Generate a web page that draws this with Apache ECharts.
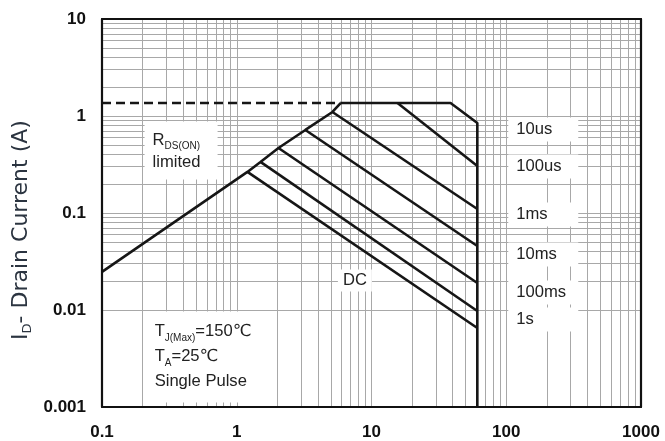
<!DOCTYPE html>
<html><head><meta charset="utf-8">
<script src="https://cdn.jsdelivr.net/npm/echarts@6/dist/echarts.min.js"></script>
<style>html,body{margin:0;padding:0;background:#fff}#c{width:665px;height:441px}</style>
</head><body><div id="c"></div>
<script>
// ---- tick labels ----
const xTickLabels = ['0.1', '1', '10', '100', '1000'];
const yTickLabels = ['0.001', '0.01', '0.1', '1', '10'];
const gridMultipliers = [1, 2, 3, 4, 5, 6, 7, 8, 9];
const xDecades = [0.1, 1, 10, 100];
const yDecades = [0.001, 0.01, 0.1, 1];

// ---- curves (VDS [V], ID [A]) ----
const rdsLimit = [[0.1, 0.0247], [1.20, 0.265], [1.50, 0.336], [2.04, 0.468], [3.23, 0.718], [5.13, 1.10], [5.9, 1.36]];
const dashedLimit = [[0.1, 1.36], [5.9, 1.36]];
const line10us = [[5.9, 1.36], [38.6, 1.36], [61, 0.848], [61, 0.001]];
const line100us = [[15.6, 1.36], [61, 0.305]];
const line1ms = [[5.13, 1.10], [61, 0.110]];
const line10ms = [[3.23, 0.718], [61, 0.0457]];
const line100ms = [[2.04, 0.468], [61, 0.0190]];
const line1s = [[1.50, 0.336], [61, 0.00977]];
const lineDC = [[1.20, 0.265], [61, 0.00652]];
const pulseLabels = ['10us', '100us', '1ms', '10ms', '100ms', '1s'];

const FONT = "'Liberation Sans', Arial, 'DejaVu Sans', 'Noto Sans CJK SC', sans-serif";
const LINE = { color: '#161616', width: 2.6 };

// grid lines (log paper)
const gridLines = [];
xDecades.forEach(d => gridMultipliers.forEach(m => { const v = m * d; if (!(d === 0.1 && m === 1)) gridLines.push({ xAxis: v }); }));
yDecades.forEach(d => gridMultipliers.forEach(m => { const v = m * d; if (!(d === 0.001 && m === 1)) gridLines.push({ yAxis: v }); }));

function expIndex(v) { return Math.round(Math.log10(v)); }

const FS = 16.6;
const richMain = {
  m: { fontSize: FS, lineHeight: 22, fontFamily: FONT, color: '#222' },
  s: { fontSize: 10, lineHeight: 13, fontFamily: FONT, color: '#222', verticalAlign: 'bottom' }
};
const richTj = {
  m: { fontSize: FS, lineHeight: 25, fontFamily: FONT, color: '#222' },
  s: { fontSize: 10, lineHeight: 14, fontFamily: FONT, color: '#222', verticalAlign: 'bottom' }
};
const boxLabel = (extra) => Object.assign({
  show: true, position: [0, 0], align: 'left', verticalAlign: 'top',
  backgroundColor: '#fff', fontFamily: FONT, fontSize: FS, color: '#222'
}, extra);

const pulseAnchors = [[104.4, 0.954], [104.4, 0.396], [104.4, 0.127], [104.4, 0.0491], [104.4, 0.0199], [104.4, 0.0105]];

const annotations = [
  { coord: [0.2088, 0.867], label: boxLabel({ formatter: '{m|R}{s|DS(ON)}\n{m|limited}', rich: richMain, padding: [8, 8, 6, 8], width: 57 }) },
  { coord: [0.209, 0.00954], label: boxLabel({ formatter: '{m|T}{s|J(Max)}{m|=150\u2103}\n{m|T}{s|A}{m|=25\u2103}\n{m|Single Pulse}', rich: richTj, padding: [7, 8, 9, 10], width: 107 }) },
  { coord: [5.68, 0.0259], label: boxLabel({ formatter: 'DC', lineHeight: 16, padding: [3, 5, 3, 5] }) }
].concat(pulseLabels.map((t, i) => ({
  coord: pulseAnchors[i],
  label: boxLabel({ formatter: t, lineHeight: 16, padding: [4, 6, 4, 8], width: 56 })
})));

function lineSeries(name, data, extra) {
  return Object.assign({
    name, type: 'line', data, symbol: 'none', showSymbol: false, silent: true,
    lineStyle: Object.assign({}, LINE), z: 3, animation: false
  }, extra || {});
}

const axisBase = {
  type: 'log', logBase: 10,
  axisTick: { show: false }, splitLine: { show: false }, minorSplitLine: { show: false },
  axisLine: { show: true, onZero: false, lineStyle: { color: '#111', width: 2.2 } },
  z: 10
};

const chart = echarts.init(document.getElementById('c'), null, { renderer: 'canvas' });
chart.setOption({
  animation: false,
  backgroundColor: '#fff',
  grid: { left: 102, right: 24, top: 19, bottom: 34, containLabel: false },
  xAxis: [
    Object.assign({}, axisBase, {
      min: 0.1, max: 1000, position: 'bottom',
      axisLabel: { formatter: v => xTickLabels[expIndex(v) + 1], fontFamily: FONT, fontWeight: 'bold', fontSize: 17, color: '#111', margin: 17 }
    }),
    Object.assign({}, axisBase, { min: 0.1, max: 1000, position: 'top', axisLabel: { show: false } })
  ],
  yAxis: [
    Object.assign({}, axisBase, {
      min: 0.001, max: 10, position: 'left',
      axisLabel: { formatter: v => yTickLabels[expIndex(v) + 3], fontFamily: FONT, fontWeight: 'bold', fontSize: 17, color: '#111', margin: 16 }
    }),
    Object.assign({}, axisBase, { min: 0.001, max: 10, position: 'right', axisLabel: { show: false } })
  ],
  graphic: [{
    type: 'text', x: 21, y: 230, rotation: Math.PI / 2, silent: true,
    style: {
      text: '{m|I}{s|D}{m|- Drain Current (A)}',
      align: 'center', verticalAlign: 'middle',
      rich: {
        m: { fontSize: 22, fontFamily: "'DejaVu Sans', sans-serif", fill: '#2b3440', lineHeight: 26 },
        s: { fontSize: 13, fontFamily: "'DejaVu Sans', sans-serif", fill: '#2b3440', lineHeight: 14, verticalAlign: 'bottom' }
      }
    }
  }],
  series: [
    lineSeries('RDS(ON) limit', rdsLimit, {
      markLine: {
        silent: true, symbol: ['none', 'none'], z: 1, animation: false,
        label: { show: false }, emphasis: { disabled: true },
        lineStyle: { color: '#a8a8a8', width: 1, type: 'solid' },
        data: gridLines
      }
    }),
    lineSeries('limit (dashed)', dashedLimit, { lineStyle: Object.assign({}, LINE, { type: [9, 5] }) }),
    lineSeries('10us', line10us),
    lineSeries('100us', line100us),
    lineSeries('1ms', line1ms),
    lineSeries('10ms', line10ms),
    lineSeries('100ms', line100ms),
    lineSeries('1s', line1s),
    lineSeries('DC', lineDC, {
      markPoint: {
        silent: true, animation: false, symbol: 'rect', symbolSize: 1,
        itemStyle: { color: 'rgba(0,0,0,0)' },
        data: annotations
      }
    })
  ]
});
</script>
</body></html>
